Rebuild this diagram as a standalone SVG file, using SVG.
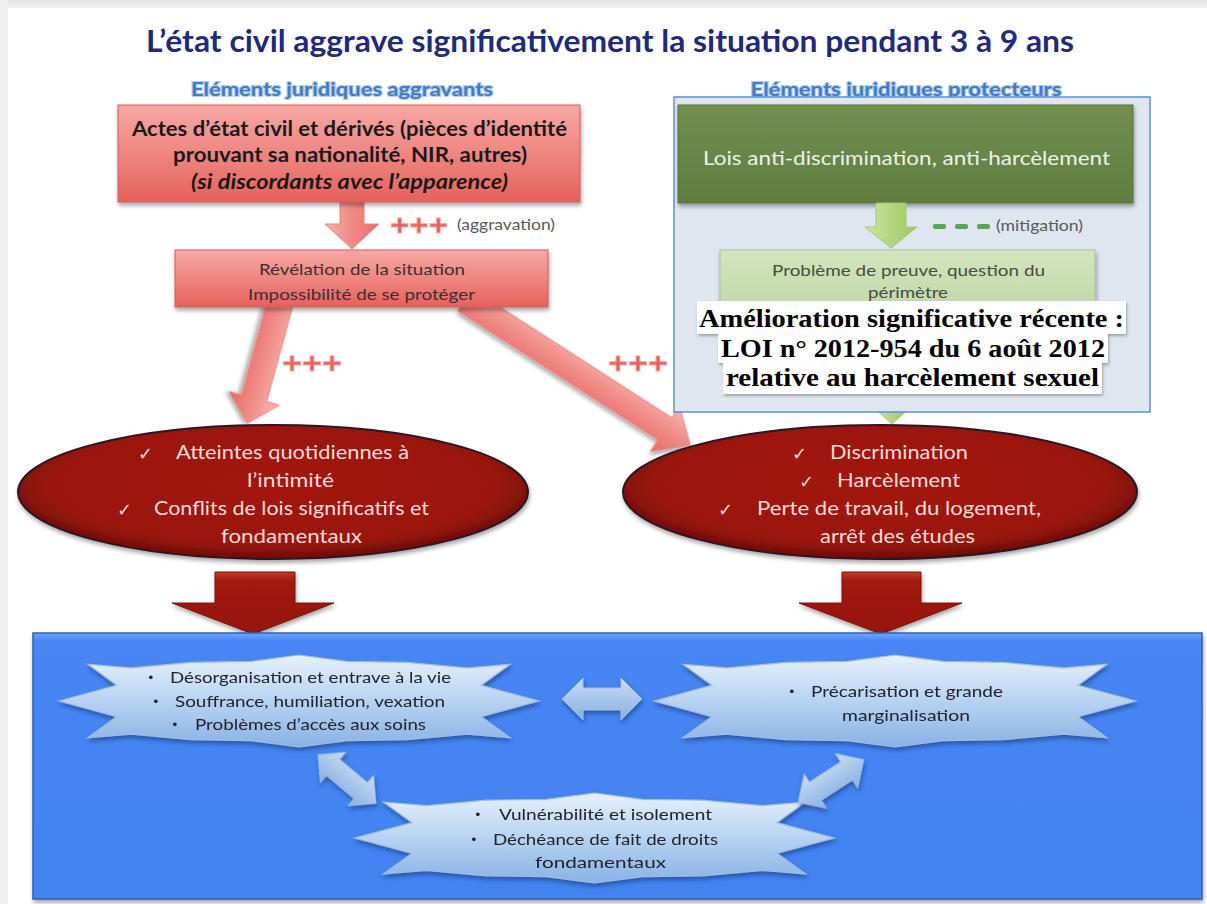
<svg xmlns="http://www.w3.org/2000/svg" xmlns:xlink="http://www.w3.org/1999/xlink" width="1207" height="904" viewBox="0 0 1207 904">
  <style>
    .title { font-family: Lato, "Open Sans", sans-serif; font-weight: 700; font-size: 30px; fill: #1f2a7c; }
    .sub { font-family: Lato, "Open Sans", sans-serif; font-weight: 700; font-size: 18px; fill: #3f7cc6; stroke: #b4cff0; stroke-width: 2.2px; paint-order: stroke; }
    .boxtxt { font-family: Lato, "Open Sans", sans-serif; font-weight: 700; font-size: 20px; fill: #1a1a1a; }
    .small { font-family: Lato, "Open Sans", sans-serif; font-size: 16px; fill: #3b2f2f; }
    .note { font-family: Lato, "Open Sans", sans-serif; font-size: 15px; fill: #5a5a5a; }
    .plus { font-family: "Liberation Sans", Arial, sans-serif; font-weight: 700; font-size: 30px; fill: #e4605c; stroke: #f4a9a5; stroke-width: 0.8px; }
    .lawtxt { font-family: Lato, "Open Sans", sans-serif; font-size: 19px; fill: #eef2e6; }
    .greentxt { font-family: Lato, "Open Sans", sans-serif; font-size: 16px; fill: #4a4a40; }
    .label { font-family: "Liberation Serif", "Times New Roman", serif; font-weight: 700; font-size: 26px; fill: #000; }
    .ell { font-family: Lato, "Open Sans", sans-serif; font-size: 19px; fill: #f7dcd8; }
    .chk { font-family: "DejaVu Sans", sans-serif; font-size: 18px; fill: #f7dcd8; }
    .star { font-family: Lato, "Open Sans", sans-serif; font-size: 16px; fill: #22222e; }
    .bul { font-family: "DejaVu Sans", sans-serif; font-size: 13px; fill: #22222e; }
  </style>
  <defs>
    <linearGradient id="gTopBand" x1="0" y1="0" x2="0" y2="1">
      <stop offset="0" stop-color="#e2e2e2"/>
      <stop offset="1" stop-color="#f3f3f3"/>
    </linearGradient>
    <linearGradient id="gRedBox" x1="0" y1="0" x2="0" y2="1">
      <stop offset="0" stop-color="#f6a8a4"/>
      <stop offset="0.5" stop-color="#ef8681"/>
      <stop offset="1" stop-color="#e5615b"/>
    </linearGradient>
    <linearGradient id="gPink" x1="0" y1="0" x2="0" y2="1">
      <stop offset="0" stop-color="#f8b9b5"/>
      <stop offset="0.5" stop-color="#f08c87"/>
      <stop offset="1" stop-color="#e86a65"/>
    </linearGradient>
    <linearGradient id="gPinkH" x1="0" y1="0" x2="1" y2="0">
      <stop offset="0" stop-color="#f6b0ac"/>
      <stop offset="0.5" stop-color="#f08a85"/>
      <stop offset="1" stop-color="#e8706b"/>
    </linearGradient>
    <linearGradient id="gLaw" x1="0" y1="0" x2="0" y2="1">
      <stop offset="0" stop-color="#728f50"/>
      <stop offset="1" stop-color="#5f7d40"/>
    </linearGradient>
    <linearGradient id="gLightGreen" x1="0" y1="0" x2="0" y2="1">
      <stop offset="0" stop-color="#d3e5bf"/>
      <stop offset="1" stop-color="#bfd6a6"/>
    </linearGradient>
    <linearGradient id="gGreenArrow" x1="0" y1="0" x2="1" y2="0">
      <stop offset="0" stop-color="#cde5a6"/>
      <stop offset="0.5" stop-color="#b3d67f"/>
      <stop offset="1" stop-color="#9cc860"/>
    </linearGradient>
    <radialGradient id="gEllipse" cx="0.5" cy="0.45" r="0.55">
      <stop offset="0" stop-color="#a3190a"/>
      <stop offset="0.8" stop-color="#9a1608"/>
      <stop offset="1" stop-color="#6e0d06"/>
    </radialGradient>
    <linearGradient id="gDarkArrow" x1="0" y1="0" x2="0" y2="1">
      <stop offset="0" stop-color="#c43a2c"/>
      <stop offset="0.15" stop-color="#a01a0c"/>
      <stop offset="1" stop-color="#961608"/>
    </linearGradient>
    <linearGradient id="gBlueBox" x1="0" y1="0" x2="0" y2="1">
      <stop offset="0" stop-color="#72a6fa"/>
      <stop offset="0.03" stop-color="#4686f4"/>
      <stop offset="1" stop-color="#4283f0"/>
    </linearGradient>
    <linearGradient id="gStar" x1="0" y1="0" x2="0" y2="1">
      <stop offset="0" stop-color="#e6f1fc"/>
      <stop offset="0.45" stop-color="#bcd6f3"/>
      <stop offset="1" stop-color="#89b2e4"/>
    </linearGradient>
    <linearGradient id="gDbl" x1="0" y1="0" x2="0" y2="1">
      <stop offset="0" stop-color="#c9ddf5"/>
      <stop offset="1" stop-color="#88afe0"/>
    </linearGradient>
    <filter id="shadow" x="-10%" y="-10%" width="120%" height="130%">
      <feDropShadow dx="1" dy="3" stdDeviation="2" flood-color="#000" flood-opacity="0.35"/>
    </filter>
    <filter id="shadowBlue" x="-10%" y="-20%" width="120%" height="150%">
      <feDropShadow dx="1" dy="3" stdDeviation="2" flood-color="#15306a" flood-opacity="0.55"/>
    </filter>
    <filter id="labelShadow" x="-5%" y="-20%" width="110%" height="150%">
      <feDropShadow dx="1" dy="2" stdDeviation="1.5" flood-color="#000" flood-opacity="0.3"/>
    </filter>
    <!-- squashed sixteen-point seal used for the consequence shapes -->
    <polygon id="star16" points="-1,0 -0.76,-0.34 -0.88,-0.8 -0.7,-0.72 -0.45,-0.84 -0.2,-0.86 0,-1 0.2,-0.86 0.45,-0.84 0.7,-0.72 0.88,-0.8 0.76,-0.34 1,0 0.76,0.34 0.88,0.8 0.7,0.72 0.45,0.84 0.2,0.86 0,1 -0.2,0.86 -0.45,0.84 -0.7,0.72 -0.88,0.8 -0.76,0.34" style="fill:url(#gStar);stroke:#9dbde4;stroke-width:1.2px;vector-effect:non-scaling-stroke"/>
    <path id="dblArrow" d="M-40,0 L-19,-21 L-19,-11 L19,-11 L19,-21 L40,0 L19,21 L19,11 L-19,11 L-19,21 Z" fill="url(#gDbl)" stroke="#9cbbe2" stroke-width="1"/>
  </defs>

  <!-- page frame -->
  <rect x="0" y="0" width="1207" height="904" fill="#ffffff"/>
  <rect x="0" y="0" width="1207" height="8" fill="url(#gTopBand)"/>
  <rect x="0" y="0" width="8" height="904" fill="#efefef"/>

  <!-- headings -->
  <text class="title" x="610" y="52" text-anchor="middle" textLength="928" lengthAdjust="spacingAndGlyphs">L’état civil aggrave significativement la situation pendant 3 à 9 ans</text>
  <text class="sub" x="342" y="96" text-anchor="middle" textLength="302" lengthAdjust="spacingAndGlyphs">Eléments juridiques aggravants</text>
  <text class="sub" x="906" y="96" text-anchor="middle" textLength="311" lengthAdjust="spacingAndGlyphs">Eléments juridiques protecteurs</text>

  <!-- connectors -->
  <g id="connectors">
    <!-- civil records to revelation -->
    <path d="M340,200 H364 V224 H379 L352,249 L325,224 H340 Z" fill="url(#gPinkH)" stroke="#e8847f" stroke-width="1"/>
    <!-- revelation to the two consequence ellipses -->
    <path d="M0,-13 L102,-13 L102,-26 L128,0 L102,26 L102,13 L0,13 Z" transform="translate(281,300) rotate(105.3)" fill="url(#gPink)" stroke="#e8847f" stroke-width="1" filter="url(#shadow)"/>
    <path d="M0,-13 L238,-13 L238,-27 L268,0 L238,27 L238,13 L0,13 Z" transform="translate(465,300) rotate(32.8)" fill="url(#gPink)" stroke="#e8847f" stroke-width="1" filter="url(#shadow)"/>
    <!-- protective block to right ellipse -->
    <path d="M882,380 H902 V408 H910 L892,424 L874,408 H882 Z" fill="url(#gGreenArrow)" stroke="#a4c874" stroke-width="1"/>
    <!-- ellipses to consequences block -->
    <path d="M215,572 H295 V603 H334 L253,634 L172,603 H215 Z" fill="url(#gDarkArrow)" stroke="#7a1006" stroke-width="1" filter="url(#shadow)"/>
    <path d="M842,572 H921 V603 H962 L881,634 L799,603 H842 Z" fill="url(#gDarkArrow)" stroke="#7a1006" stroke-width="1" filter="url(#shadow)"/>
  </g>

  <!-- aggravating side -->
  <g id="node-actes">
    <rect x="118" y="105" width="462" height="97" fill="url(#gRedBox)" stroke="#d45a55" stroke-width="1" filter="url(#shadow)"/>
    <text class="boxtxt" x="349.5" y="136" text-anchor="middle" textLength="435" lengthAdjust="spacingAndGlyphs">Actes d’état civil et dérivés (pièces d’identité</text>
    <text class="boxtxt" x="350" y="162" text-anchor="middle" textLength="354" lengthAdjust="spacingAndGlyphs">prouvant sa nationalité, NIR, autres)</text>
    <text class="boxtxt" x="349.5" y="189" text-anchor="middle" font-style="italic" textLength="317" lengthAdjust="spacingAndGlyphs">(si discordants avec l’apparence)</text>
  </g>
  <g id="label-aggravation">
    <text class="plus" x="390" y="235" textLength="58" lengthAdjust="spacingAndGlyphs">+++</text>
    <text class="note" x="457" y="230" textLength="98" lengthAdjust="spacingAndGlyphs">(aggravation)</text>
  </g>
  <g id="node-revelation">
    <rect x="175" y="250" width="373" height="57" fill="url(#gRedBox)" stroke="#d45a55" stroke-width="1" filter="url(#shadow)"/>
    <text class="small" x="362" y="275" text-anchor="middle" textLength="206" lengthAdjust="spacingAndGlyphs">Révélation de la situation</text>
    <text class="small" x="361.5" y="300" text-anchor="middle" textLength="227" lengthAdjust="spacingAndGlyphs">Impossibilité de se protéger</text>
  </g>
  <g id="labels-plus">
    <text class="plus" x="282" y="373" textLength="60" lengthAdjust="spacingAndGlyphs">+++</text>
    <text class="plus" x="608" y="373" textLength="60" lengthAdjust="spacingAndGlyphs">+++</text>
  </g>

  <!-- protective side -->
  <g id="node-protection">
    <rect x="674" y="97" width="476" height="315" fill="#dfe6ef" stroke="#5b8fd6" stroke-width="1.5"/>
  </g>
  <g id="node-lois">
    <rect x="678" y="105" width="455" height="98" fill="url(#gLaw)" stroke="#56703a" stroke-width="1" filter="url(#shadow)"/>
    <text class="lawtxt" x="906.5" y="165" text-anchor="middle" textLength="407" lengthAdjust="spacingAndGlyphs">Lois anti-discrimination, anti-harcèlement</text>
  </g>
  <!-- laws to proof problem -->
  <path d="M876,203 H906 V227 H917 L891,248 L865,227 H876 Z" fill="url(#gGreenArrow)" stroke="#a4c874" stroke-width="1"/>
  <g id="label-mitigation">
    <rect x="933" y="224" width="13" height="5" rx="2" fill="#55a655"/>
    <rect x="955" y="224" width="13" height="5" rx="2" fill="#55a655"/>
    <rect x="977" y="224" width="13" height="5" rx="2" fill="#55a655"/>
    <text class="note" x="996" y="231" textLength="87" lengthAdjust="spacingAndGlyphs">(mitigation)</text>
  </g>
  <g id="node-preuve">
    <rect x="720" y="250" width="375" height="68" fill="url(#gLightGreen)" stroke="#a9c48e" stroke-width="1" filter="url(#shadow)"/>
    <text class="greentxt" x="908.5" y="276" text-anchor="middle" textLength="273" lengthAdjust="spacingAndGlyphs">Problème de preuve, question du</text>
    <text class="greentxt" x="908" y="298" text-anchor="middle" textLength="80" lengthAdjust="spacingAndGlyphs">périmètre</text>
  </g>
  <g id="node-loi-2012">
    <rect x="697" y="301" width="429" height="33" fill="#ffffff" filter="url(#labelShadow)"/>
    <rect x="718" y="333" width="390" height="30" fill="#ffffff" filter="url(#labelShadow)"/>
    <rect x="723" y="363" width="379" height="31" fill="#ffffff" filter="url(#labelShadow)"/>
    <text class="label" x="911.5" y="327" text-anchor="middle" textLength="425" lengthAdjust="spacingAndGlyphs">Amélioration significative récente :</text>
    <text class="label" x="913" y="357" text-anchor="middle" textLength="384" lengthAdjust="spacingAndGlyphs">LOI n° 2012-954 du 6 août 2012</text>
    <text class="label" x="912.5" y="386" text-anchor="middle" textLength="373" lengthAdjust="spacingAndGlyphs">relative au harcèlement sexuel</text>
  </g>

  <!-- consequence ellipses -->
  <g id="node-intimite">
    <ellipse cx="273" cy="492" rx="255" ry="67" fill="url(#gEllipse)" stroke="#2c1424" stroke-width="2" filter="url(#shadow)"/>
    <text class="chk" x="138" y="460">✓</text>
    <text class="ell" x="176" y="459" textLength="233" lengthAdjust="spacingAndGlyphs">Atteintes quotidiennes à</text>
    <text class="ell" x="290.5" y="487" text-anchor="middle" textLength="87" lengthAdjust="spacingAndGlyphs">l’intimité</text>
    <text class="chk" x="117" y="516">✓</text>
    <text class="ell" x="154" y="515" textLength="275" lengthAdjust="spacingAndGlyphs">Conflits de lois significatifs et</text>
    <text class="ell" x="291.5" y="543" text-anchor="middle" textLength="141" lengthAdjust="spacingAndGlyphs">fondamentaux</text>
  </g>
  <g id="node-discrimination">
    <ellipse cx="880" cy="492" rx="257" ry="67" fill="url(#gEllipse)" stroke="#2c1424" stroke-width="2" filter="url(#shadow)"/>
    <text class="chk" x="792" y="460">✓</text>
    <text class="ell" x="830" y="459" textLength="138" lengthAdjust="spacingAndGlyphs">Discrimination</text>
    <text class="chk" x="799" y="488">✓</text>
    <text class="ell" x="837" y="487" textLength="123" lengthAdjust="spacingAndGlyphs">Harcèlement</text>
    <text class="chk" x="718" y="516">✓</text>
    <text class="ell" x="757" y="515" textLength="284" lengthAdjust="spacingAndGlyphs">Perte de travail, du logement,</text>
    <text class="ell" x="897.5" y="543" text-anchor="middle" textLength="155" lengthAdjust="spacingAndGlyphs">arrêt des études</text>
  </g>

  <!-- consequences block -->
  <g id="node-consequences">
    <rect x="33" y="633" width="1169" height="266" fill="url(#gBlueBox)" stroke="#2f5fb4" stroke-width="1.5" filter="url(#shadow)"/>
  </g>

  <g id="node-desorganisation" filter="url(#shadowBlue)">
    <use xlink:href="#star16" transform="translate(299,701) scale(240,46)"/>
    <text class="bul" x="147" y="682">•</text>
    <text class="star" x="170" y="683" textLength="281" lengthAdjust="spacingAndGlyphs">Désorganisation et entrave à la vie</text>
    <text class="bul" x="152" y="706">•</text>
    <text class="star" x="175" y="707" textLength="270" lengthAdjust="spacingAndGlyphs">Souffrance, humiliation, vexation</text>
    <text class="bul" x="171" y="729">•</text>
    <text class="star" x="195" y="730" textLength="231" lengthAdjust="spacingAndGlyphs">Problèmes d’accès aux soins</text>
  </g>
  <g id="node-precarisation" filter="url(#shadowBlue)">
    <use xlink:href="#star16" transform="translate(895,701) scale(241,46)"/>
    <text class="bul" x="788" y="696">•</text>
    <text class="star" x="811" y="697" textLength="192" lengthAdjust="spacingAndGlyphs">Précarisation et grande</text>
    <text class="star" x="906" y="721" text-anchor="middle" textLength="128" lengthAdjust="spacingAndGlyphs">marginalisation</text>
  </g>
  <g id="node-vulnerabilite" filter="url(#shadowBlue)">
    <use xlink:href="#star16" transform="translate(594.5,838) scale(240,45)"/>
    <text class="bul" x="474" y="819">•</text>
    <text class="star" x="499" y="820" textLength="213" lengthAdjust="spacingAndGlyphs">Vulnérabilité et isolement</text>
    <text class="bul" x="470" y="844">•</text>
    <text class="star" x="493" y="845" textLength="225" lengthAdjust="spacingAndGlyphs">Déchéance de fait de droits</text>
    <text class="star" x="600.5" y="868" text-anchor="middle" textLength="131" lengthAdjust="spacingAndGlyphs">fondamentaux</text>
  </g>

  <g id="links-consequences" filter="url(#shadowBlue)">
    <use xlink:href="#dblArrow" transform="translate(602,699)"/>
    <use xlink:href="#dblArrow" transform="translate(347,779) rotate(40) scale(0.95)"/>
    <use xlink:href="#dblArrow" transform="translate(831,781) rotate(-33) scale(0.98)"/>
  </g>
</svg>
